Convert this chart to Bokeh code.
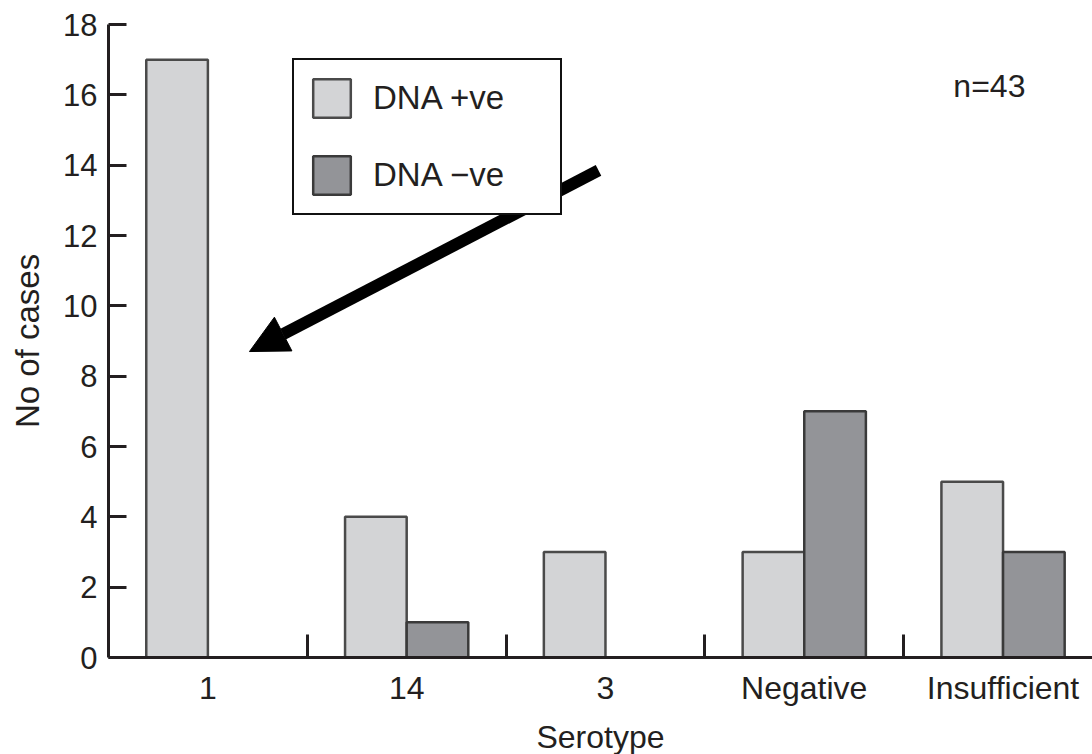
from bokeh.plotting import figure
from bokeh.models import (Range1d, FixedTicker, Legend, LegendItem, Arrow, NormalHead, Label)
from bokeh.embed import file_html
from bokeh.resources import INLINE

categories = ["1", "14", "3", "Negative", "Insufficient"]
dna_pos = [17, 4, 3, 3, 5]
dna_neg = [0, 1, 0, 7, 3]
y_ticks = [0, 2, 4, 6, 8, 10, 12, 14, 16, 18]

FONT = "Liberation Sans"
TXT = "#231f20"

centers = [i + 0.5 for i in range(len(categories))]
bw = 0.31
x_pos = [c - bw / 2 for c in centers]
x_neg = [c + bw / 2 for c in centers]

p = figure(frame_width=984, frame_height=633, output_backend="svg", toolbar_location=None,
           x_range=Range1d(0, 4.95), y_range=Range1d(0, 18),
           min_border_left=108, min_border_right=0, min_border_top=24, min_border_bottom=97)
p.outline_line_color = None
p.xgrid.visible = False
p.ygrid.visible = False
p.background_fill_color = "white"
p.border_fill_color = "white"

r_pos = p.vbar(x=x_pos, top=dna_pos, width=bw, bottom=0,
               fill_color="#d3d4d6", line_color="#4a4a4a", line_width=2.5)
r_neg = p.vbar(x=x_neg, top=dna_neg, width=bw, bottom=0,
               fill_color="#939498", line_color="#3a3a3a", line_width=2.5)

# x axis
xa = p.xaxis[0]
xa.ticker = FixedTicker(ticks=centers, minor_ticks=[1, 2, 3, 4])
xa.major_label_overrides = {c: lab for c, lab in zip(centers, categories)}
xa.major_tick_line_color = None
xa.major_tick_out = 0
xa.major_tick_in = 0
xa.minor_tick_in = 23
xa.minor_tick_out = 0
xa.minor_tick_line_width = 3
xa.minor_tick_line_color = TXT
xa.axis_line_width = 3
xa.axis_line_color = TXT
xa.major_label_text_font = FONT
xa.major_label_text_font_size = "32px"
xa.major_label_text_color = TXT
xa.major_label_standoff = 12
xa.axis_label = "Serotype"
xa.axis_label_text_font = FONT
xa.axis_label_text_font_size = "32px"
xa.axis_label_text_font_style = "normal"
xa.axis_label_text_color = TXT
xa.axis_label_standoff = 10

# y axis
ya = p.yaxis[0]
ya.ticker = FixedTicker(ticks=y_ticks)
ya.major_tick_in = 18
ya.major_tick_out = 0
ya.major_tick_line_width = 3
ya.major_tick_line_color = TXT
ya.minor_tick_line_color = None
ya.axis_line_width = 3
ya.axis_line_color = TXT
ya.major_label_text_font = FONT
ya.major_label_text_font_size = "31px"
ya.major_label_text_color = TXT
ya.major_label_standoff = 11
ya.axis_label = "No of cases"
ya.axis_label_text_font = FONT
ya.axis_label_text_font_size = "33px"
ya.axis_label_text_font_style = "normal"
ya.axis_label_text_color = TXT
ya.axis_label_standoff = 14

legend = Legend(items=[LegendItem(label="DNA +ve", renderers=[r_pos]),
                       LegendItem(label="DNA \u2212ve", renderers=[r_neg])],
                location=(184, 442))
legend.border_line_color = "#111111"
legend.border_line_alpha = 1.0
legend.border_line_width = 2.5
legend.background_fill_color = "white"
legend.background_fill_alpha = 1
legend.padding = 14
legend.spacing = 29
legend.margin = 0
legend.glyph_width = 47
legend.glyph_height = 48
legend.label_standoff = 18
legend.label_width = 173
legend.label_text_font = FONT
legend.label_text_font_size = "33px"
legend.label_text_color = TXT
p.add_layout(legend)

# annotation arrow
arrow_x0, arrow_y0, arrow_x1, arrow_y1 = 2.465, 13.85, 0.709, 8.70
p.add_layout(Arrow(end=NormalHead(size=38, fill_color="black", line_color="black", line_width=1),
                   x_start=arrow_x0, y_start=arrow_y0, x_end=arrow_x1, y_end=arrow_y1,
                   line_width=12, line_color="black"))

n_text = "n=43"
p.add_layout(Label(x=4.25, y=16.25, text=n_text, text_font=FONT, text_font_size="32px",
                   text_color=TXT, text_baseline="alphabetic", text_align="left"))

open("out.html", "w").write(file_html(p, INLINE))
